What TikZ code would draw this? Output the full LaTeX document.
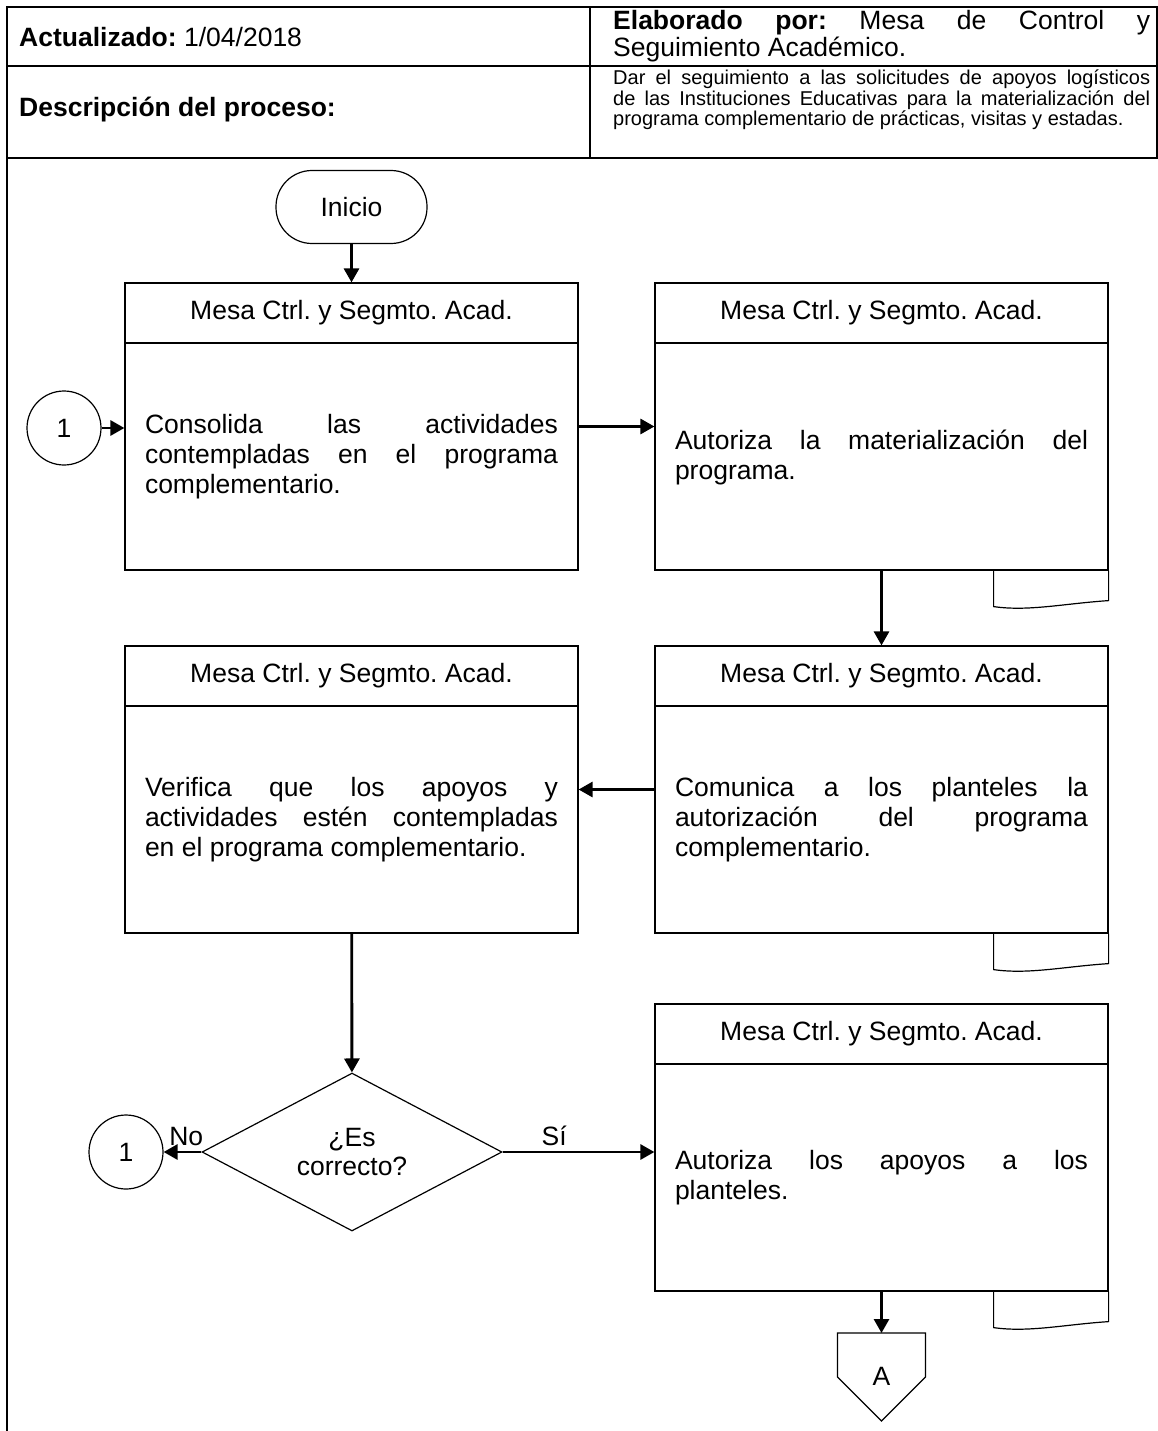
\documentclass[tikz,border=0pt]{standalone}
\usepackage{fontspec}
\setmainfont{Liberation Sans}
\frenchspacing
\usetikzlibrary{calc,shapes.geometric,arrows.meta}
\tikzset{every picture/.append style={font=\fontsize{26.5}{30}\selectfont}}
\tikzset{
  marco/.style={line width=1.8pt},
  linea/.style={draw,line width=1.2pt},
  flecha/.style={line width=2.9pt,-{Triangle[length=14pt,width=15pt]}},
  caja/.style={linea,minimum width=453pt,minimum height=287pt,inner sep=0pt},
  encab/.style={linea,minimum width=453pt,minimum height=60pt,inner sep=0pt},
  texto/.style={text width=413pt,align=justify,inner sep=0pt},
  circulo/.style={linea,circle,minimum size=74pt,inner sep=0pt},
}

\begin{document}
\begin{tikzpicture}[x=1pt,y=-1pt]
    \useasboundingbox (0,0) rectangle (1158,1431);
    % encabezado
    \draw[marco] (7,1431) -- (7,7) -- (1157,7) -- (1157,158) -- (7,158);
    \draw[marco] (7,66) -- (1157,66);
    \draw[marco] (590,7) -- (590,158);
    \node[anchor=west,inner sep=0pt] (act) at (19,37) {\textbf{Actualizado:} 1/04/2018};
    \node[anchor=west,inner sep=0pt] (desc) at (19,110) {\textbf{Descripción del proceso:}};
    \node[anchor=north west,inner sep=0pt,text width=537pt,align=justify,
      font=\fontsize{26.5}{27}\selectfont] (elab) at (613,10)
      {\textbf{Elaborado por:} Mesa de Control y\linebreak Seguimiento Académico.};
    \node[anchor=north west,inner sep=0pt,text width=537pt,align=justify,
      font=\fontsize{20}{20.5}\selectfont] (proc) at (613,70)
      {Dar el seguimiento a las solicitudes de apoyos logísticos\linebreak
       de las Instituciones Educativas para la materialización del\linebreak
       programa complementario de prácticas, visitas y estadas.};

    % inicio
    \node[linea,rounded corners=36pt,minimum width=151pt,minimum height=73pt] (inicio) at (351.5,207) {Inicio};

    % cajas de actividad
    \node[caja] (b1) at (351.5,426.5) {};
    \node[caja] (b2) at (881.5,426.5) {};
    \node[caja] (b3) at (881.5,789.5) {};
    \node[caja] (b4) at (351.5,789.5) {};
    \node[caja] (b5) at (881.5,1147.5) {};
    \foreach \b in {b1,b2,b3,b4,b5} {
      \node[encab,anchor=north] (\b t) at (\b.north) {Mesa Ctrl. y Segmto. Acad.};
    }
    \node[texto] (b1x) at ($(b1t.south)!0.5!(b1.south)$)
      {Consolida las actividades\linebreak contempladas en el programa\linebreak complementario.};
    \node[texto] (b2x) at ($(b2t.south)!0.5!(b2.south)$)
      {Autoriza la materialización del\linebreak programa.};
    \node[texto] (b3x) at ($(b3t.south)!0.5!(b3.south)$)
      {Comunica a los planteles la\linebreak autorización del programa\linebreak complementario.};
    \node[texto] (b4x) at ($(b4t.south)!0.5!(b4.south)$)
      {Verifica que los apoyos y\linebreak actividades estén contempladas\linebreak en el programa complementario.};
    \node[texto] (b5x) at ($(b5t.south)!0.5!(b5.south)$)
      {Autoriza los apoyos a los\linebreak planteles.};

    % documentos
    \foreach \b in {b2,b3,b5} {
      \draw[linea] ($(\b.south east)+(-115,0)$) -- ++(0,36)
        .. controls +(35,5) and +(-45,3) .. ($(\b.south east)+(0,30)$) -- (\b.south east);
    }

    % decision y conectores
    \node[linea,diamond,minimum width=300pt,minimum height=150pt,inner sep=0pt,
      align=center,font=\fontsize{26.5}{29}\selectfont] (dec) at (352,1152) {¿Es\\correcto?};
    \node[circulo] (c1) at (64,428) {1};
    \node[circulo] (c2) at (126,1152) {1};
    \coordinate (pagA) at (881.5,1333);
    \draw[linea] (pagA) -- ++(44,0) -- ++(0,44) -- ++(-44,44) -- ++(-44,-44) -- ++(0,-44) -- cycle;
    \node (A) at (881.5,1376) {A};

    % flechas
    \draw[flecha] (inicio) -- (b1t);
    \draw[flecha] (c1) -- (c1 -| b1.west);
    \draw[flecha] (b1) -- (b2);
    \draw[flecha] (b2) -- (b3t);
    \draw[flecha] (b3) -- (b4);
    \draw[flecha] (b4) -- (dec);
    \draw[flecha] (dec) -- (c2) node[pos=0.4,above=5pt,inner sep=0pt] {No};
    \draw[flecha] (dec) -- (dec -| b5.west) node[pos=0.34,above=5pt,inner sep=0pt] {Sí};
    \draw[flecha] (b5) -- (pagA);
\end{tikzpicture}
\end{document}
